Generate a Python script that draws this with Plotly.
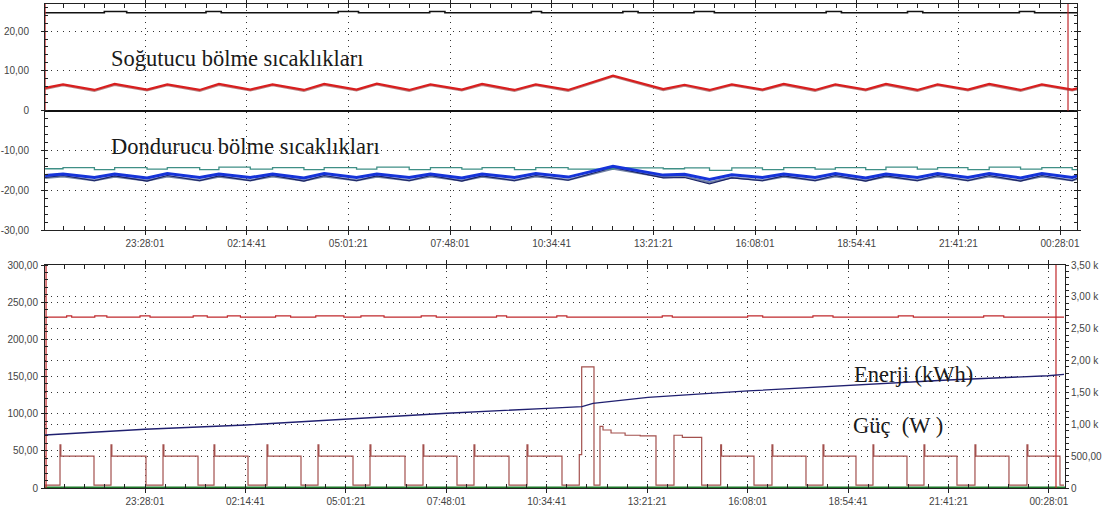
import pandas as pd
import plotly.graph_objects as go

# ---------------- data (time = seconds after 20:41:21 of day 1) ----------------
BASE = "2015-06-01 20:41:21"

temp_t = [170, 1938, 5023, 7016, 10200, 12193, 15378, 17271, 20356, 22547, 25632,
          27625, 30809, 32802, 35986, 38078, 41163, 43155, 46340, 48432, 51617,
          56035, 60975, 63067, 65525, 67717, 70732, 72824, 75909, 77901, 80887,
          82879, 85964, 87957, 90942, 93034, 96119, 98211, 101196, 101700]

fridge_a = [5.7, 6.6, 5.2, 6.7, 5.3, 6.6, 5.2, 6.7, 5.3, 6.6, 5.2,
            6.7, 5.3, 6.8, 5.2, 6.6, 5.3, 6.7, 5.2, 6.6, 5.2,
            8.8, 5.4, 6.5, 5.2, 6.6, 5.3, 6.7, 5.2, 6.6, 5.3,
            6.7, 5.2, 6.6, 5.3, 6.7, 5.2, 6.6, 5.3, 5.6]
fridge_b = [5.4, 6.3, 4.9, 6.4, 5.0, 6.3, 4.9, 6.4, 5.0, 6.3, 4.9,
            6.4, 5.0, 6.5, 4.9, 6.3, 5.0, 6.4, 4.9, 6.3, 4.9,
            8.5, 5.1, 6.2, 4.9, 6.3, 5.0, 6.4, 4.9, 6.3, 5.0,
            6.4, 4.9, 6.3, 5.0, 6.4, 4.9, 6.3, 5.0, 5.3]

freezer_teal = [-14.6, -14.3, -14.8, -14.3, -14.7, -14.3, -14.8, -14.2, -14.7, -14.3, -14.8,
                -14.3, -14.7, -14.2, -14.8, -14.3, -14.7, -14.3, -14.8, -14.3, -14.7,
                -14.4, -14.6, -14.4, -15.0, -14.4, -14.8, -14.3, -14.7, -14.3, -14.8,
                -14.2, -14.7, -14.3, -14.8, -14.2, -14.7, -14.3, -14.8, -14.6]
freezer_blue = [-16.3, -15.9, -16.8, -15.9, -16.9, -15.8, -16.8, -15.9, -16.8, -15.9, -16.9,
                -15.8, -16.8, -15.9, -16.8, -15.9, -16.9, -15.9, -16.8, -15.8, -16.7,
                -14.0, -16.2, -16.0, -17.3, -16.1, -16.8, -15.9, -16.8, -15.8, -16.9,
                -15.9, -16.8, -15.8, -16.8, -15.8, -16.9, -15.8, -16.8, -16.4]
freezer_slate = [-16.9, -16.5, -17.5, -16.6, -17.6, -16.5, -17.5, -16.6, -17.5, -16.5, -17.6,
                 -16.5, -17.5, -16.6, -17.5, -16.5, -17.6, -16.6, -17.5, -16.5, -17.4,
                 -14.6, -16.7, -16.6, -18.0, -16.8, -17.5, -16.6, -17.5, -16.5, -17.6,
                 -16.6, -17.5, -16.5, -17.5, -16.5, -17.6, -16.5, -17.5, -17.1]
freezer_navy = [-16.8, -16.3, -17.6, -16.4, -17.7, -16.3, -17.6, -16.4, -17.6, -16.3, -17.7,
                -16.3, -17.6, -16.4, -17.6, -16.3, -17.7, -16.4, -17.6, -16.3, -17.5,
                -14.3, -16.9, -16.8, -18.4, -16.9, -17.6, -16.4, -17.6, -16.3, -17.7,
                -16.4, -17.6, -16.3, -17.6, -16.3, -17.7, -16.3, -17.6, -17.0]

ambient_t = [170, 6000, 8200, 16000, 17500, 29000, 31000, 38000, 39500, 48000, 49000,
             57000, 58500, 64000, 66000, 77000, 78500, 85000, 86500, 96000, 97500, 101700]
ambient_v = [24.6, 24.9, 24.6, 24.9, 24.6, 24.9, 24.6, 24.9, 24.6, 24.9, 24.6,
             24.9, 24.6, 24.9, 24.6, 24.9, 24.6, 24.9, 24.6, 24.9, 24.6, 24.6]

power_t = [44, 1538, 1620, 4923, 6616, 6700, 10100, 11793, 11880, 15278,
           16871, 16950, 20256, 22147, 22230, 25532, 27225, 27310, 30709,
           32402, 32490, 35886, 37678, 37760, 41063, 42755, 42840, 46240,
           48032, 48120, 51517, 53239, 53478, 54703, 55300, 55600, 56400,
           57800, 59300, 60875, 62667, 63500, 65425, 67317, 67400, 70632,
           72424, 72510, 75809, 77501, 77590, 80787, 82479, 82560, 85864,
           87557, 87640, 90842, 92634, 92720, 96019, 97811, 97900, 101096, 101500]
power_w = [4, 58, 43, 4, 58, 43, 4, 58, 43, 4,
           58, 43, 4, 58, 43, 4, 58, 43, 4,
           58, 43, 4, 58, 43, 4, 58, 43, 4,
           58, 43, 4, 45, 163, 4, 83, 78, 74,
           71, 70, 4, 71, 68, 4, 58, 43, 4,
           58, 43, 4, 58, 43, 4, 58, 43, 4,
           58, 43, 4, 58, 43, 4, 58, 43, 4, 4]

volt_t = [44, 2200, 2700, 5000, 6200, 9500, 10500, 14800, 16200, 18200, 19500,
          23000, 24500, 27000, 29800, 31500, 33800, 37500, 39000, 45000, 46000,
          51000, 52000, 61500, 62500, 70000, 71500, 76500, 78500, 85000, 86500,
          93500, 95500, 101500]
volt_v = [230, 231.5, 230, 231.5, 230, 231.5, 230, 231.5, 230, 231.5, 230,
          231.5, 230, 231.5, 230, 231.5, 230, 231.5, 230, 231.5, 230,
          231.5, 230, 231.5, 230, 231.5, 230, 231.5, 230, 231.5, 230,
          231.5, 230, 230]

energy_t = [44, 10000, 20056, 30111, 40067, 50023, 53508, 54603, 60079, 70035,
            79991, 89947, 99903, 101500]
energy_wh = [832, 922, 989, 1083, 1173, 1251, 1276, 1329, 1423, 1523,
             1605, 1695, 1762, 1785]

zero_t = [44, 101597]
zero_v = [0, 0]

cursor_top_t = [170, 100786]
cursor_top_v = [0, 30]
cursor_bot_t = [150, 100700]
cursor_bot_v = [0, 320]

top_ticks = [-30, -20, -10, 0, 10, 20]
top_ticktext = ["-30,00", "-20,00", "-10,00", "0", "10,00", "20,00"]
left_ticks = [0, 50, 100, 150, 200, 250, 300]
left_ticktext = ["0", "50,00", "100,00", "150,00", "200,00", "250,00", "300,00"]
right_ticks = [0, 500, 1000, 1500, 2000, 2500, 3000, 3500]
right_ticktext = ["0", "500,00", "1,00 k", "1,50 k", "2,00 k", "2,50 k", "3,00 k", "3,50 k"]

labels = ["Soğutucu bölme sıcaklıkları", "Dondurucu bölme sıcaklıkları",
          "Enerji (kWh)", "Güç  (W )"]

# ---------------- helpers ----------------
base = pd.Timestamp(BASE)


def ts(seconds):
    return list(base + pd.to_timedelta(seconds, unit="s"))


def vlines(tlist, vpair):
    xs, ys = [], []
    for t in tlist:
        tt = base + pd.Timedelta(seconds=t)
        xs += [tt, tt, None]
        ys += [vpair[0], vpair[1], None]
    return xs, ys


assert len(power_t) == len(power_w)
assert len(volt_t) == len(volt_v)
assert len(ambient_t) == len(ambient_v)
for s in (fridge_a, fridge_b, freezer_teal, freezer_blue, freezer_slate, freezer_navy):
    assert len(s) == len(temp_t)

fig = go.Figure()
T = ts(temp_t)

# top panel
fig.add_trace(go.Scatter(x=ts(ambient_t), y=ambient_v, mode="lines", line=dict(color="#111111", width=1.6, shape="hv"),
                         xaxis="x", yaxis="y"))
fig.add_trace(go.Scatter(x=T, y=fridge_b, mode="lines", line=dict(color="#b98585", width=1.6), xaxis="x", yaxis="y"))
fig.add_trace(go.Scatter(x=T, y=fridge_a, mode="lines", line=dict(color="#d81e1e", width=2.2), xaxis="x", yaxis="y"))
fig.add_trace(go.Scatter(x=T, y=freezer_slate, mode="lines", line=dict(color="#7383a6", width=2.2), xaxis="x", yaxis="y"))
fig.add_trace(go.Scatter(x=T, y=freezer_navy, mode="lines", line=dict(color="#1a2266", width=1.1), xaxis="x", yaxis="y"))
fig.add_trace(go.Scatter(x=T, y=freezer_teal, mode="lines", line=dict(color="#3f8f86", width=1.3, shape="hv"), xaxis="x", yaxis="y"))
fig.add_trace(go.Scatter(x=T, y=freezer_blue, mode="lines", line=dict(color="#1533d9", width=3), xaxis="x", yaxis="y"))
cx, cy = vlines(cursor_top_t, cursor_top_v)
fig.add_trace(go.Scatter(x=cx, y=cy, mode="lines", line=dict(color="#c0282c", width=1.2), xaxis="x", yaxis="y"))

# bottom panel
fig.add_trace(go.Scatter(x=ts(zero_t), y=zero_v, mode="lines", line=dict(color="#1f7a2a", width=3), xaxis="x2", yaxis="y2"))
fig.add_trace(go.Scatter(x=ts(volt_t), y=volt_v, mode="lines", line=dict(color="#c0282c", width=1.2, shape="hv"),
                         xaxis="x2", yaxis="y2"))
fig.add_trace(go.Scatter(x=ts(power_t), y=power_w, mode="lines", line=dict(color="#a3504d", width=1.2, shape="hv"),
                         xaxis="x2", yaxis="y2"))
fig.add_trace(go.Scatter(x=ts(energy_t), y=energy_wh, mode="lines", line=dict(color="#202070", width=1.3),
                         xaxis="x2", yaxis="y3"))
cx, cy = vlines(cursor_bot_t, cursor_bot_v)
fig.add_trace(go.Scatter(x=cx, y=cy, mode="lines", line=dict(color="#c0282c", width=1.2), xaxis="x2", yaxis="y2"))

# ---------------- layout ----------------
tickfont = dict(family="Liberation Sans, Arial, sans-serif", size=10, color="#444444")
grid = dict(showgrid=True, gridcolor="#333333", gridwidth=1, griddash="1px,5px")
xcommon = dict(type="date", tick0=BASE, dtick=10000000, tickformat="%H:%M:%S",
               ticks="outside", ticklen=4, tickcolor="#222222", tickfont=tickfont,
               minor=dict(tick0=BASE, dtick=2000000, ticks="inside", ticklen=4, tickcolor="#222222", showgrid=False),
               showline=True, linecolor="#222222", linewidth=1, mirror="ticks", zeroline=False,
               automargin=False, **grid)

top_range = ts([164, 101670])
bot_range = ts([44, 101597])

fig.update_layout(
    width=1106, height=514,
    margin=dict(l=45, r=29, t=4, b=26, autoexpand=False),
    paper_bgcolor="white", plot_bgcolor="white",
    showlegend=False,
    xaxis=dict(domain=[0, 1], anchor="y", range=top_range, ticklabelstandoff=0, **xcommon),
    xaxis2=dict(domain=[0, 0.98837], anchor="y2", range=bot_range, ticklabelstandoff=0, **xcommon),
    yaxis=dict(domain=[0.533, 1], anchor="x", range=[-30, 26.8], tickvals=top_ticks, ticktext=top_ticktext,
               ticks="outside", ticklen=3, tickcolor="#222222", tickfont=tickfont, ticklabelstandoff=10,
               minor=dict(dtick=2, ticks="inside", ticklen=3, tickcolor="#222222", showgrid=False),
               showline=True, linecolor="#222222", mirror="ticks", automargin=False,
               zeroline=True, zerolinecolor="#111111", zerolinewidth=1.5, **grid),
    yaxis2=dict(domain=[0, 0.4607], anchor="x2", range=[0, 300], tickvals=left_ticks, ticktext=left_ticktext,
                ticks="outside", ticklen=3, tickcolor="#222222", tickfont=tickfont, ticklabelstandoff=1,
                minor=dict(dtick=10, ticks="inside", ticklen=3, tickcolor="#222222", showgrid=False),
                showline=True, linecolor="#222222", mirror=True, zeroline=False, automargin=False, **grid),
    yaxis3=dict(overlaying="y2", anchor="x2", side="right", range=[0, 3500], tickvals=right_ticks,
                ticktext=right_ticktext, ticks="outside", ticklen=3, tickcolor="#222222", tickfont=tickfont,
                minor=dict(dtick=100, ticks="outside", ticklen=3, tickcolor="#222222", showgrid=False),
                showline=True, linecolor="#222222", zeroline=False, automargin=False, **grid),
)

serif = dict(family="Liberation Serif, Times New Roman, serif", size=22.5, color="#1a1a1a")
ann_pos = [(0.1856, 0.8864), (0.1938, 0.7066), (0.8416, 0.2349), (0.8270, 0.1295)]
for text, (ax_, ay_) in zip(labels, ann_pos):
    fig.add_annotation(text=text, x=ax_, y=ay_, xref="paper", yref="paper", showarrow=False,
                       xanchor="center", yanchor="middle", font=serif)

fig.write_html("out.html", config={"displayModeBar": False},
               post_script="document.body.style.margin='0';document.body.style.padding='0';")
